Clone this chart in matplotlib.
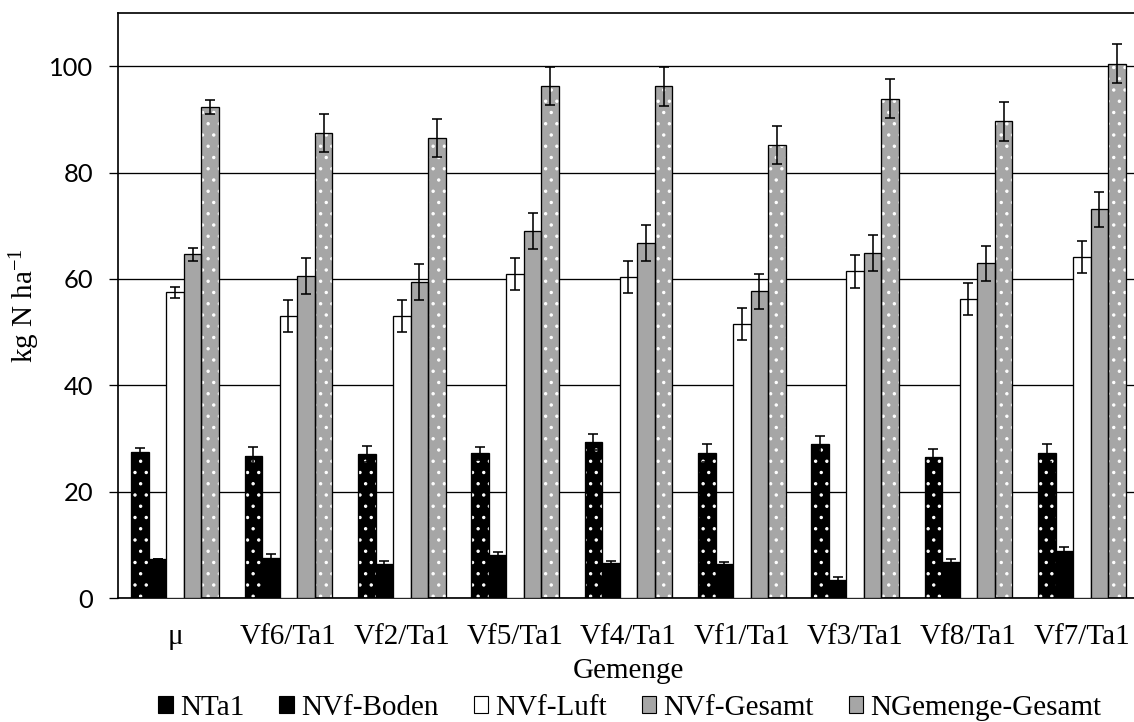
import numpy as np
import matplotlib
matplotlib.use("Agg")
import matplotlib.pyplot as plt
from matplotlib.patches import Patch

# ---------------- data ----------------
categories = ['μ', 'Vf6/Ta1', 'Vf2/Ta1', 'Vf5/Ta1', 'Vf4/Ta1',
              'Vf1/Ta1', 'Vf3/Ta1', 'Vf8/Ta1', 'Vf7/Ta1']
series_names = ['NTa1', 'NVf-Boden', 'NVf-Luft', 'NVf-Gesamt', 'NGemenge-Gesamt']

NTa1 = [27.5, 26.7, 27.0, 27.2, 29.3, 27.3, 28.9, 26.5, 27.2]
NTa1_err = [0.7, 1.6, 1.5, 1.2, 1.55, 1.7, 1.6, 1.6, 1.7]
NVf_Boden = [7.3, 7.6, 6.4, 8.05, 6.5, 6.3, 3.4, 6.7, 8.9]
NVf_Boden_err = [0.0, 0.6, 0.55, 0.55, 0.55, 0.5, 0.6, 0.6, 0.7]
NVf_Luft = [57.5, 53.0, 53.0, 60.9, 60.3, 51.5, 61.4, 56.2, 64.1]
NVf_Luft_err = [1.0, 3.0, 3.0, 3.0, 3.0, 3.05, 3.05, 3.0, 3.05]
NVf_Gesamt = [64.6, 60.5, 59.4, 69.0, 66.7, 57.7, 64.8, 62.9, 73.1]
NVf_Gesamt_err = [1.3, 3.4, 3.35, 3.35, 3.35, 3.3, 3.4, 3.35, 3.3]
NGemenge_Gesamt = [92.4, 87.4, 86.5, 96.3, 96.2, 85.2, 93.9, 89.6, 100.5]
NGemenge_Gesamt_err = [1.3, 3.6, 3.6, 3.6, 3.6, 3.6, 3.6, 3.6, 3.7]

yticks = [0, 20, 40, 60, 80, 100]

values = [NTa1, NVf_Boden, NVf_Luft, NVf_Gesamt, NGemenge_Gesamt]
errors = [NTa1_err, NVf_Boden_err, NVf_Luft_err, NVf_Gesamt_err, NGemenge_Gesamt_err]
faces = ['#000000', '#000000', '#FFFFFF', '#A6A6A6', '#A6A6A6']
dotted = [True, False, False, False, True]

# ---------------- style ----------------
DPI = 135
plt.rcParams['hatch.linewidth'] = 0.6
plt.rcParams['mathtext.fontset'] = 'custom'
plt.rcParams['mathtext.rm'] = 'Liberation Serif'
plt.rcParams['mathtext.default'] = 'regular'
serif = 'Liberation Serif'
FS = 15.5

fig = plt.figure(figsize=(1135 / DPI, 722 / DPI), dpi=DPI)
W, H = 1135.0, 722.0
ax_left, ax_right = 118.5, 1138.5
ax_top, ax_bottom = 13.0, 598.0
ax = fig.add_axes([ax_left / W, 1 - ax_bottom / H,
                   (ax_right - ax_left) / W, (ax_bottom - ax_top) / H])

x = np.arange(len(categories))
bw = 0.1545
lw = 0.7

for i, (vals, errs, fc, dot) in enumerate(zip(values, errors, faces, dotted)):
    pos = x + (i - 2) * bw
    if dot:
        ax.bar(pos, vals, bw, color=fc, edgecolor='white', linewidth=0,
               hatch='..', zorder=2)
        ax.bar(pos, vals, bw, fill=False, edgecolor='black', linewidth=lw, zorder=3)
    else:
        ax.bar(pos, vals, bw, color=fc, edgecolor='black', linewidth=lw, zorder=3)
    ax.errorbar(pos, vals, yerr=errs, fmt='none', ecolor='black',
                elinewidth=0.85, capsize=2.9, capthick=0.85, zorder=4)

ax.set_xlim(-0.5, len(categories) - 0.5)
ax.set_ylim(0, 110)
ax.set_yticks(yticks)
ax.yaxis.grid(True, color='black', linewidth=0.7)
ax.set_axisbelow(True)
ax.set_xticks(x)
ax.set_xticklabels(categories, fontfamily=serif, fontsize=FS)
ax.tick_params(axis='x', length=0, pad=14)
ax.tick_params(axis='y', length=4.6, width=0.7, pad=9.0, labelsize=13.6)
for lab in ax.get_yticklabels():
    lab.set_fontfamily('Lato')
for s in ax.spines.values():
    s.set_linewidth(0.9)
    s.set_color('black')

ax.set_xlabel('Gemenge', fontfamily=serif, fontsize=FS, labelpad=4)
ax.set_ylabel('kg N ha$^{\\mathregular{-1}}$', fontfamily=serif, fontsize=FS)
ax.yaxis.set_label_coords((42 - ax_left) / (ax_right - ax_left), 0.5)

handles = [Patch(facecolor=fc, edgecolor='black', linewidth=0.6) for fc in faces]
fig.legend(handles, series_names, loc='center', ncol=5, frameon=False,
           bbox_to_anchor=(630 / W, 1 - 708 / H),
           prop={'family': serif, 'size': FS},
           handlelength=0.5, handleheight=0.5, handletextpad=0.25,
           columnspacing=1.2, borderaxespad=0, borderpad=0)

fig.savefig('out.png', dpi=DPI)
